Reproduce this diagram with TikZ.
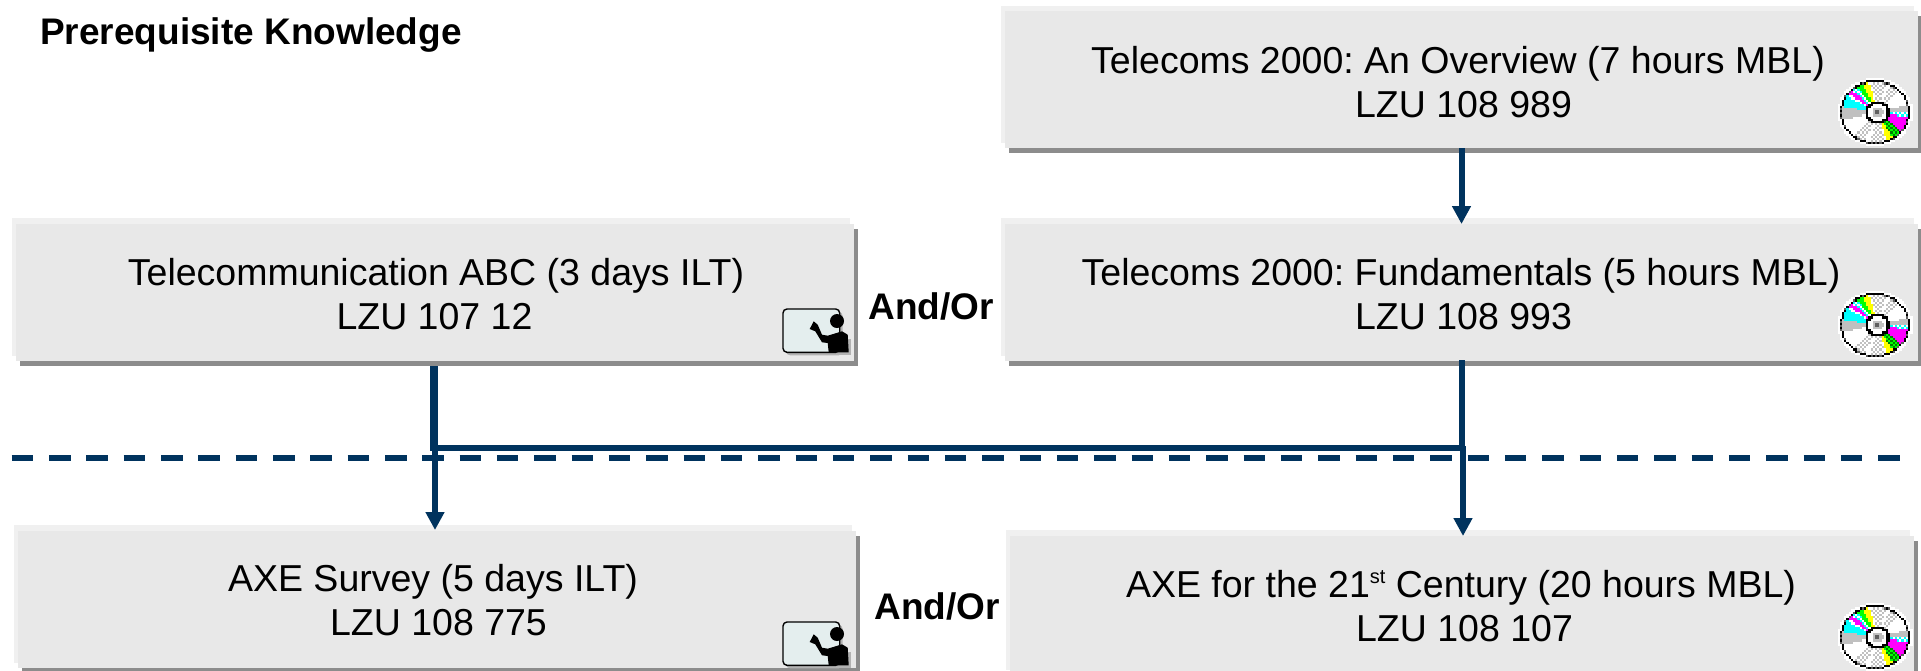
\documentclass[tikz,border=0pt]{standalone}
\usepackage{fontspec}
\setmainfont{Liberation Sans}
\frenchspacing
\usetikzlibrary{arrows.meta}
\definecolor{navy}{HTML}{00335E}
\definecolor{boxmain}{HTML}{E8E8E8}
\definecolor{boxlight}{HTML}{F0F0F0}
\definecolor{boxdark}{HTML}{8C8C8C}
\definecolor{board}{HTML}{E4EEEE}
\definecolor{pxcyan}{HTML}{00FFFF}
\definecolor{pxmagenta}{HTML}{FF00FF}
\definecolor{pxyellow}{HTML}{FFFF00}
\definecolor{pxgreen}{HTML}{00FF00}
\definecolor{pxdgreen}{HTML}{008000}
\definecolor{pxgray}{HTML}{C0C0C0}
\definecolor{pxdark}{HTML}{606060}
\tikzset{
  mainbox/.style={fill=boxmain,inner sep=0pt,outer sep=0pt},
  coursetext/.style={font=\fontsize{37.5}{43.7}\selectfont,align=center,text=black,inner sep=0pt},
  boldtext/.style={font=\fontsize{37}{44}\selectfont\bfseries,text=black,inner sep=0pt},
  thickline/.style={draw=navy,line width=8pt},
  thinline/.style={draw=navy,line width=6pt},
  arrowline/.style={draw=navy,line width=6pt,-{Triangle[length=18pt,width=18pt]}},
  dashline/.style={draw=navy,line width=6pt,dash pattern=on 21.5pt off 15.83pt}
}
\newcommand\coursebox[6]{% name, x0,y0,x1,y1, dy light
  \fill[boxlight] (#2-4,#3-#6) rectangle (#4-4,#5-5);
  \fill[boxdark] (#2+4,#3+5) rectangle (#4+4,#5+5);
  \path[mainbox] (#2,#3) rectangle (#4,#5);
  \node[minimum width=#4pt-#2pt,minimum height=#5pt-#3pt,inner sep=0pt,outer sep=0pt] (#1) at ({(#2+#4)/2},{(#3+#5)/2}) {};
}
\newcommand\band[3]{\ifdim\aa pt<#1pt\else\ifdim\aa pt<#2pt\edef\pc{#3}\fi\fi}
\newcommand\cdicon[2]{%
\begin{scope}[shift={(#1,#2)},x=2.2pt,y=2.13pt]
  \foreach \i in {-17,...,16}{\foreach \j in {-16,...,15}{
    \pgfmathsetmacro\xx{(\i+.5)/15.9}
    \pgfmathsetmacro\yy{(\j+.5)/15.0}
    \pgfmathsetmacro\rr{\xx*\xx+\yy*\yy}
    \ifdim\rr pt<1.14pt
      \pgfmathsetmacro\hx{\xx-.08}
      \pgfmathsetmacro\hr{\hx*\hx+\yy*\yy}
      \pgfmathsetmacro\aa{mod(atan2(\yy,\hx)+360,360)}
      \edef\pc{white}
      \ifodd\numexpr\i+\j+100\relax\def\chk{white}\def\chkg{pxdgreen}\else\def\chk{pxgray}\def\chkg{pxgreen}\fi
      \ifodd\numexpr\i+\j+100\relax\def\chc{white}\else\def\chc{pxcyan}\fi
      \band{0}{15}{pxgray}
      \band{45}{68}{\chk}\band{76}{102}{\chk}
      \band{105}{117}{pxyellow}
      \band{117}{127}{pxgreen}
      \band{127}{137}{\chc}
      \band{137}{145}{pxmagenta}
      \band{145}{150}{white}
      \band{150}{170}{pxcyan}
      \band{170}{193}{pxgray}
      \band{225}{248}{\chk}\band{256}{282}{\chk}
      \band{285}{298}{pxyellow}
      \band{298}{318}{\chkg}
      \band{318}{350}{pxmagenta}
      \band{350}{358}{\chc}
      \band{358}{360}{pxgray}
      \ifdim\hr pt<0.13pt\edef\pc{black}\fi
      \ifdim\hr pt<0.07pt\edef\pc{white}\fi
      \ifdim\hr pt<0.025pt\edef\pc{pxgray}\fi
      \ifdim\hr pt<0.004pt\edef\pc{pxdark}\fi
      \ifdim\rr pt>0.87pt\edef\pc{black}\ifodd\numexpr\i+100\relax\else\ifodd\numexpr\j+100\relax\edef\pc{pxdark}\fi\fi\fi
      \ifdim\rr pt>1.0pt\edef\pc{white}\fi
      \fill[\pc] (\i,\j) rectangle ++(1.06,1.06);
    \fi
  }}
\end{scope}}
\newcommand\teachericon[2]{%
\begin{scope}[shift={(#1,#2)}]
  \fill[gray!60,rounded corners=4pt] (3,3) rectangle (59.7,46.3);
  \fill[gray!60] (48,30) rectangle (68,46.3);
  \draw[black,line width=1.4pt,fill=board,rounded corners=4pt] (0,0) rectangle (56.7,43.3);
  \fill[black] (54,12) circle[radius=7pt];
  \fill[black] (44.7,26.7) -- (59,22.3) -- (64.7,25.7) -- (65.7,43.3) -- (45.7,43.3) -- (44.7,34) -- (39,33.3) -- (32.3,22.3) -- (26.7,20) -- (30.7,12.3) -- (34.7,15.7) -- (39,25.7) -- cycle;
\end{scope}}
\begin{document}
\begin{tikzpicture}[x=1pt,y=-1pt]
  \path[use as bounding box] (0,0) rectangle (1921,670);
  \clip (0,0) rectangle (1921,670);
  \coursebox{topbox}{1005}{11}{1918}{148}{5}
  \coursebox{fundbox}{1005}{224}{1918}{361}{6}
  \coursebox{abcbox}{16}{224}{854}{361}{6}
  \coursebox{surveybox}{18}{531}{856}{668}{6}
  \coursebox{centurybox}{1010}{536}{1914}{675}{6}

  \node[boldtext,anchor=base west] (title) at (40,44) {Prerequisite Knowledge};
  \node[coursetext] (toptext) at (1458,82) {Telecoms 2000: An Overview (7 hours MBL)\\\hspace*{11pt}LZU 108 989};
  \node[coursetext] (fundtext) at (1461,294) {Telecoms 2000: Fundamentals (5 hours MBL)\\\hspace*{5pt}LZU 108 993};
  \node[coursetext] (abctext) at (436,294) {Telecommunication ABC (3 days ILT)\\\hspace*{-3pt}LZU 107 12};
  \node[coursetext] (surveytext) at (433,600) {AXE Survey (5 days ILT)\\\hspace*{11pt}LZU 108 775};
  \node[coursetext] (centurytext) at (1461,606) {AXE for the 21\raisebox{.38em}{\fontsize{20}{20}\selectfont st} Century (20 hours MBL)\\\hspace*{7pt}LZU 108 107};
  \node[boldtext] (andor1) at (931,306) {And/Or};
  \node[boldtext] (andor2) at (937,606) {And/Or};

  \cdicon{1875}{112.3}
  \cdicon{1875}{325}
  \cdicon{1875}{637.3}
  \teachericon{783}{309}
  \teachericon{783}{622}

  \coordinate (leftdrop) at (434,366);
  \coordinate (leftjoin) at (434,451);
  \coordinate (leftstart) at (435,446);
  \coordinate (leftend) at (435,530);
  \coordinate (rightstart) at (1462,360);
  \coordinate (rightjoin) at (1462,448);
  \coordinate (rightmid) at (1463,446);
  \coordinate (rightend) at (1463,536);
  \coordinate (hleft) at (432,448);
  \coordinate (dashstart) at (11.7,458);
  \coordinate (dashend) at (1900,458);

  \draw[dashline] (dashstart) -- (dashend);
  \draw[thickline] (leftdrop) -- (leftjoin);
  \draw[arrowline] (leftstart) -- (leftend);
  \draw[thinline] (hleft) -- (rightjoin);
  \draw[thinline] (rightstart) -- (rightjoin);
  \draw[arrowline] (rightmid) -- (rightend);
  \draw[arrowline] (topbox.south) -- (fundbox.north);
\end{tikzpicture}
\end{document}
